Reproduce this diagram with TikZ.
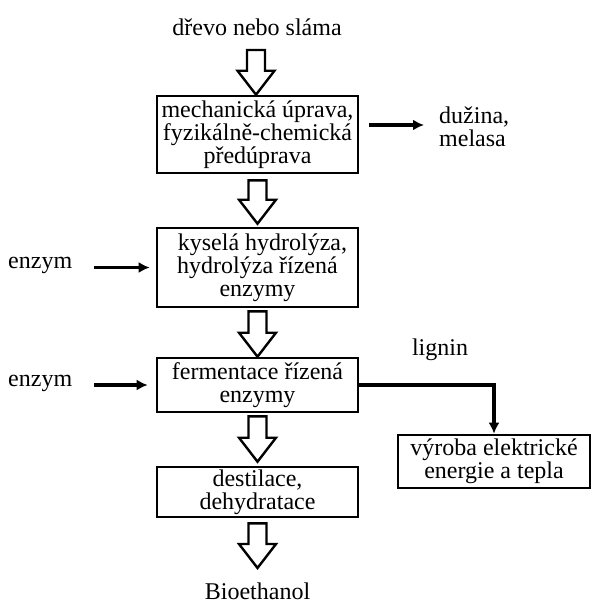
\documentclass[tikz,border=0pt]{standalone}
\usepackage{fontspec}
\setmainfont{Liberation Serif}
\usetikzlibrary{arrows.meta,calc}
\begin{document}
\begin{tikzpicture}[x=1pt,y=-1pt,
  every node/.style={font=\fontsize{24}{23}\selectfont, inner sep=0pt},
  procbox/.style={draw, line width=2.6pt, minimum width=201pt, align=center},
  lbl/.style={align=center},
  fat/.style={draw, line width=2.4pt, fill=white, line join=miter,
    to path={let \p1=(\tikztostart), \p2=(\tikztotarget) in
      (\x1-9pt,\y1) -- (\x1+9pt,\y1) -- (\x1+9pt,\y2+24pt)
      -- (\x1+18.5pt,\y2+24pt) -- (\x1,\y2) -- (\x1-18.5pt,\y2+24pt)
      -- (\x1-9pt,\y2+24pt) -- cycle}},
  flow/.style={line width=3.6pt, -{Latex[length=11pt,width=11pt]}}
]
\useasboundingbox (0,0) rectangle (592,606);

% main chain of process steps
\node[lbl] (src) at (257,27) {dřevo nebo sláma};
\node[procbox, minimum height=77pt] (b1) at (257.5,134.5) {mechanická úprava,\\fyzikálně-chemická\\předúprava};
\node[procbox, minimum height=79pt] (b2) at (257.5,267.5) {\hspace*{10pt}kyselá hydrolýza,\\hydrolýza řízená\\enzymy};
\node[procbox, minimum height=54pt] (b3) at (257.5,385) {fermentace řízená\\enzymy};
\node[procbox, minimum height=50pt] (b4) at (257.5,492) {destilace,\\dehydratace};
\node[lbl] (out) at (257.5,591) {Bioethanol};

% side inputs and outputs
\node[lbl, anchor=west, align=left] (duz) at (439,127) {dužina,\\melasa};
\node[lbl, anchor=west] (enz1) at (8,265) {enzym};
\node[lbl, anchor=west] (enz2) at (8,383) {enzym};
\node[lbl] (lig) at (440,350) {lignin};
\node[procbox, minimum width=192pt, minimum height=53pt] (b5) at (494,461.5) {výroba elektrické\\energie a tepla};

% start and end points of the hollow arrows
\coordinate (a1) at (256,50);
\coordinate (a5) at (256,568);
\coordinate (d1) at (369,125);

% hollow flow arrows
\path[fat] (a1) to (b1.north);
\path[fat] ([yshift=-6pt]b1.south) to ([yshift=3pt]b2.north);
\path[fat] ([yshift=-3pt]b2.south) to (b3.north);
\path[fat] ([yshift=-3pt]b3.south) to ([yshift=4pt]b4.north);
\path[fat] ([yshift=-5pt]b4.south) to (a5);

% solid connectors
\draw[flow] (d1) -- (d1 -| duz.west) [shorten >=15pt];
\draw[flow] ([xshift=22pt]enz1.east |- b2.west) -- ([xshift=-6pt]b2.west);
\draw[flow] ([xshift=22pt]enz2.east |- b3.west) -- ([xshift=-8pt]b3.west);
\draw[flow] (b3.east) -| (b5.north);
\end{tikzpicture}
\end{document}
